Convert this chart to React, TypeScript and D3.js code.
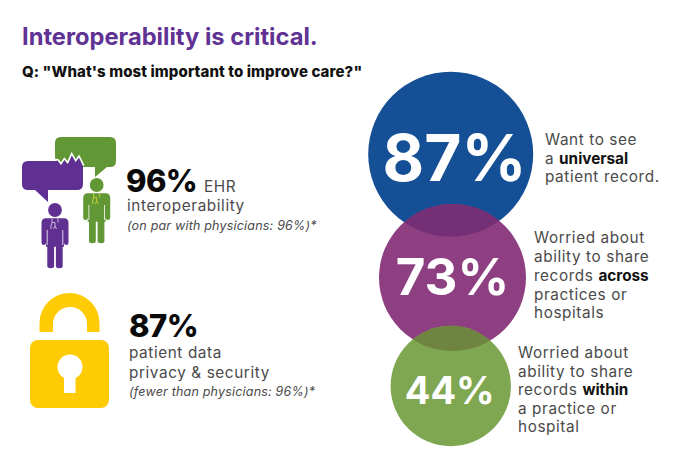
import * as d3 from "d3";

const title = "Interoperability is critical.";
const question = 'Q: "What\'s most important to improve care?"';

const circleValues = [87, 73, 44];
const circleNotes = [
  [["Want to see"], ["a ", "universal"], ["patient record."]],
  [["Worried about"], ["ability to share"], ["records ", "across"], ["practices or"], ["hospitals"]],
  [["Worried about"], ["ability to share"], ["records ", "within"], ["a practice or"], ["hospital"]],
];
const sideValues = [96, 87];
const sideLines = [
  ["interoperability"],
  ["patient data", "privacy & security"],
];
const sideNotes = ["(on par with physicians: 96%)*", "(fewer than physicians: 96%)*"];

const font = "Inter, 'Open Sans', sans-serif";
const textGrey = "#4a4a4a";
const circleColors = ["#154f95", "#8e3f82", "#7fa650"];
const overlapColors = ["#742f77", "#6f8440"];

const rScale = d3.scaleLinear([44, 73, 87], [60.2, 73.5, 82.5]);
const cxScale = d3.scaleLinear([44, 73, 87], [450.8, 452.5, 450.7]);
const cyScale = d3.scaleLinear([44, 73, 87], [386, 277.5, 154.2]);
const bigX = d3.scaleLinear([44, 73, 87], [449.7, 452.5, 454.5]);
const bigSize = d3.scaleLinear([44, 73, 87], [38, 51, 64]);
const bigBase = d3.scaleLinear([44, 73, 87], [404, 295, 180.7]);

const noteX = [545, 534, 518];
const noteY = [
  [145, 164, 182],
  [243, 262, 281, 300, 318],
  [358, 377, 395, 414, 432],
];

const bodySize = 15.3;
const bodySpacing = 0.6;

function Person({ dx, dy, color, line }: { dx: number; dy: number; color: string; line: string }) {
  return (
    <g transform={`translate(${dx},${dy})`}>
      <circle cx={55} cy={210} r={6.9} fill={color} />
      <path
        fill={color}
        d="M46,218.2 H64 Q68.5,218.2 68.5,223 V242.5 Q68.5,245 66.3,245 Q64,245 64,242.5 V246.8 H62.7 V266 Q62.7,268.2 59.4,268.2 Q55.9,268.2 55.9,266 V246.8 H54.1 V266 Q54.1,268.2 50.7,268.2 Q47.3,268.2 47.3,266 V246.8 H46 V242.5 Q46,245 43.8,245 Q41.5,245 41.5,242.5 V223 Q41.5,218.2 46,218.2 Z"
      />
      <path stroke="#fff" strokeWidth={0.8} fill="none" d="M47.2,230 V245 M62.8,230 V245" />
      <path
        stroke={line}
        strokeWidth={1}
        fill="none"
        d="M52,218.5 V222.5 L51,226 V229 M58,218.5 V222.5 M52,222.5 H55 V226 L53.5,229 M55,226 L56.5,229"
      />
    </g>
  );
}

function Bubbles() {
  return (
    <g>
      <path
        fill="#619734"
        d="M61,137 H110 Q116,137 116,143 V161 Q116,167 110,167 H107 L95,177 V167 H60 L55,158 V143 Q55,137 61,137 Z"
      />
      <path
        fill="#5f2f92"
        stroke="none"
        d="M28,161 H58 L61,165 L64.3,160 L67.7,164 L71.7,155 L75.7,162 L79,157.5 L83,166 V184 Q83,190 77,190 H48 V202 L35,190 H28 Q22,190 22,184 V167 Q22,161 28,161 Z"
      />
      <polyline
        fill="none"
        stroke="#fff"
        strokeWidth={1.6}
        points="55,159.6 58,159.8 61,163.6 64.3,158.6 67.7,162.6 71.7,153.6 75.7,160.6 79,156 83.8,165.6"
      />
    </g>
  );
}

function Lock() {
  return (
    <g>
      <path
        fill="#ffcb05"
        fillRule="evenodd"
        d="M39.5,332 V323 A30,30 0 0 1 99.5,323 V332 H87 V324 A17,17 0 0 0 53,324 V332 Z"
      />
      <rect x={30} y={340} width={79} height={68} rx={8} fill="#ffcb05" />
      <circle cx={70} cy={367} r={12.5} fill="#fff" />
      <rect x={64} y={370} width={11.5} height={23} fill="#fff" />
    </g>
  );
}

export default function App() {
  return (
    <svg
      width={678}
      height={464}
      style={{ position: "absolute", left: 0, top: 0, background: "#fff" }}
      fontFamily={font}
    >
      <defs>
        {circleValues.map((v, i) => (
          <clipPath id={`clip${i}`} key={v}>
            <circle cx={cxScale(v)} cy={cyScale(v)} r={rScale(v)} />
          </clipPath>
        ))}
      </defs>

      <text x={22} y={45} fontSize={23.7} fontWeight={700} fill="#5f3293">
        {title}
      </text>
      <text x={22} y={77} fontSize={15} fontWeight={800} fill="#111" letterSpacing={0.1}>
        {question}
      </text>

      {circleValues.map((v, i) => (
        <circle key={v} cx={cxScale(v)} cy={cyScale(v)} r={rScale(v)} fill={circleColors[i]} />
      ))}
      {overlapColors.map((c, i) => (
        <g key={c} clipPath={`url(#clip${i})`}>
          <circle
            cx={cxScale(circleValues[i + 1])}
            cy={cyScale(circleValues[i + 1])}
            r={rScale(circleValues[i + 1])}
            fill={c}
          />
        </g>
      ))}
      {circleValues.map((v) => (
        <text
          key={v}
          x={bigX(v)}
          y={bigBase(v)}
          fontSize={bigSize(v)}
          fontWeight={700}
          fill="#fff"
          textAnchor="middle"
        >
          {v}%
        </text>
      ))}

      {circleNotes.map((lines, i) =>
        lines.map((parts, j) => (
          <text
            key={`${i}-${j}`}
            x={noteX[i]}
            y={noteY[i][j]}
            fontSize={bodySize}
            fill={textGrey}
            letterSpacing={bodySpacing}
          >
            {parts.map((p, k) => (
              <tspan
                key={k}
                fontWeight={k === 1 ? 700 : 400}
                fill={k === 1 ? "#111" : textGrey}
                letterSpacing={k === 1 ? 0 : bodySpacing}
              >
                {p}
              </tspan>
            ))}
          </text>
        )),
      )}

      <Bubbles />
      <Person dx={41.7} dy={-25} color="#619734" line="#c3d233" />
      <Person dx={0} dy={0} color="#5f2f92" line="#c9b6dc" />

      <text x={126} y={192} fontSize={31} fontWeight={800} fill="#0a0a0a" letterSpacing={-0.6}>
        {sideValues[0]}%
      </text>
      <text x={204} y={192} fontSize={bodySize} fill={textGrey} letterSpacing={bodySpacing}>
        EHR
      </text>
      <text x={127} y={211} fontSize={bodySize} fill={textGrey} letterSpacing={bodySpacing}>
        {sideLines[0][0]}
      </text>
      <text x={127} y={230} fontSize={12.5} fontStyle="italic" fill={textGrey} letterSpacing={0.2}>
        {sideNotes[0]}
      </text>

      <Lock />
      <text x={129} y={337} fontSize={31} fontWeight={800} fill="#0a0a0a" letterSpacing={-0.6}>
        {sideValues[1]}%
      </text>
      {sideLines[1].map((l, i) => (
        <text key={l} x={129} y={358 + i * 20} fontSize={bodySize} fill={textGrey} letterSpacing={bodySpacing}>
          {l}
        </text>
      ))}
      <text x={129} y={396} fontSize={12.5} fontStyle="italic" fill={textGrey} letterSpacing={0.2}>
        {sideNotes[1]}
      </text>
    </svg>
  );
}
